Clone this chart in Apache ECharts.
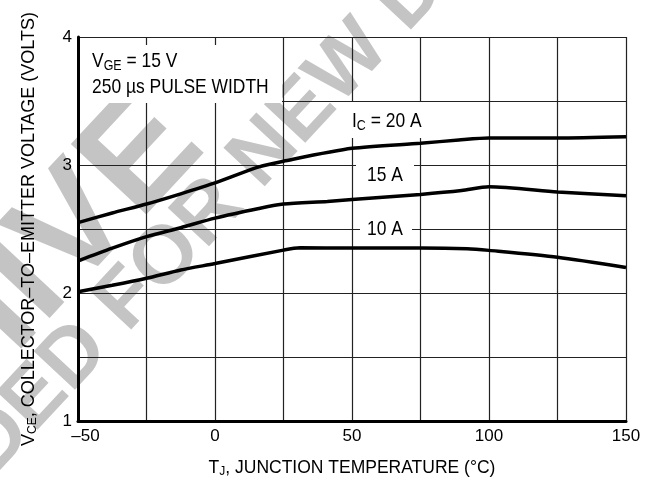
<!DOCTYPE html>
<html><head><meta charset="utf-8">
<script src="https://cdn.jsdelivr.net/npm/echarts@6/dist/echarts.min.js"></script>
<style>html,body{margin:0;padding:0;background:#fff}#c{width:657px;height:484px}</style>
</head><body><div id="c"></div>
<script>
// ---- data ----
const xTicks = [-50, 0, 50, 100, 150];
const yTicks = [1, 2, 3, 4];
const ic20T = [-50, -37.5, -25, -12.5, 0, 16, 25, 50, 75, 89, 100, 125, 150];
const ic20V = [2.55, 2.625, 2.695, 2.775, 2.86, 2.985, 3.03, 3.13, 3.17, 3.195, 3.21, 3.21, 3.22];
const ic15T = [-50, -37.5, -25, -12.5, 0, 16, 25, 41, 50, 75, 90, 100, 125, 150];
const ic15V = [2.25, 2.35, 2.44, 2.51, 2.585, 2.66, 2.695, 2.715, 2.73, 2.77, 2.80, 2.83, 2.79, 2.76];
const ic10T = [-50, -37.5, -25, -12.5, 0, 25, 31, 50, 75, 92, 100, 125, 150];
const ic10V = [2.01, 2.06, 2.115, 2.18, 2.23, 2.335, 2.353, 2.352, 2.352, 2.346, 2.333, 2.28, 2.20];

const FONT = '"Liberation Sans",Arial,Helvetica,sans-serif';
const nameRich = (sz) => ({
  n: {fontSize: sz, fontFamily: FONT, color: '#000', lineHeight: 26},
  s: {fontSize: Math.round(sz * 0.68), fontFamily: FONT, color: '#000', lineHeight: 16, padding: [8, 0, 0, 0]}
});
const annRich = {
  n: {fontSize: 21, fontFamily: FONT, color: '#000', lineHeight: 26},
  s: {fontSize: 15, fontFamily: FONT, color: '#000', lineHeight: 16, padding: [9, 0, 0, 0]}
};
const pairs = (t, v) => t.map((x, i) => [x, v[i]]);
const deg = Math.PI / 180;
const SX = 0.83;  // condensed look of the reference lettering

const chart = echarts.init(document.getElementById('c'), null, {renderer: 'canvas'});
chart.setOption({
  animation: false,
  backgroundColor: '#fff',
  grid: {left: 78, right: 31, top: 37, bottom: 63, containLabel: false, outerBoundsMode: 'none'},
  xAxis: {
    type: 'value', min: -50, max: 150, interval: 25,
    axisLine: {onZero: false, lineStyle: {color: '#000', width: 3}},
    axisTick: {show: false},
    splitLine: {show: true, lineStyle: {color: '#222', width: 1.2}},
    axisLabel: {
      margin: 7, color: '#000', fontSize: 17, fontFamily: FONT,
      formatter: v => xTicks.includes(v) ? (v < 0 ? '{m|\u2013' + Math.abs(v) + '}' : String(v)) : '',
      rich: {m: {fontSize: 17, fontFamily: FONT, color: '#000', padding: [0, 0, 0, 15]}}
    },
    name: '{n|T}{s|J}{n|, JUNCTION TEMPERATURE (\u00B0C)}',
    nameLocation: 'middle', nameGap: 34,
    nameTextStyle: {rich: nameRich(17.5)}
  },
  yAxis: {
    type: 'value', min: 1, max: 4, interval: 0.5,
    axisLine: {onZero: false, lineStyle: {color: '#000', width: 3}},
    axisTick: {show: false},
    splitLine: {show: true, lineStyle: {color: '#222', width: 1.2}},
    axisLabel: {
      margin: 6, color: '#000', fontSize: 17, fontFamily: FONT,
      formatter: v => yTicks.includes(v) ? String(v) : ''
    },
    name: '{n|V}{s|CE}{n|, COLLECTOR\u2013TO\u2013EMITTER VOLTAGE (VOLTS)}',
    nameLocation: 'middle', nameGap: 36,
    nameTextStyle: {rich: nameRich(18)}
  },
  series: [
    {name: '20 A', type: 'line', data: pairs(ic20T, ic20V)},
    {name: '15 A', type: 'line', data: pairs(ic15T, ic15V)},
    {name: '10 A', type: 'line', data: pairs(ic10T, ic10V)}
  ].map(s => Object.assign(s, {
    showSymbol: false, smooth: 0.25, z: 5,
    lineStyle: {color: '#000', width: 3.5}
  })),
  graphic: [
    // watermark
    {type: 'text', z: -5, x: -283, y: 614, rotation: 47 * deg,
     style: {text: 'ARCHIVE', font: 'bold 150px ' + FONT, fill: '#c4c4c4', textAlign: 'left', textVerticalAlign: 'middle'}},
    {type: 'text', z: -5, x: 95, y: 335, rotation: 47 * deg,
     style: {text: 'NOT RECOMMENDED', font: 'bold 82px ' + FONT, fill: '#c4c4c4', textAlign: 'right', textVerticalAlign: 'middle'}},
    {type: 'text', z: -5, x: 111, y: 318, rotation: 47 * deg,
     style: {text: 'FOR NEW DESIGN', font: 'bold 82px ' + FONT, fill: '#c4c4c4', textAlign: 'left', textVerticalAlign: 'middle'}},
    // annotation boxes
    {type: 'rect', z: 3, shape: {x: 80, y: 45, width: 202, height: 58}, style: {fill: '#fff'}},
    {type: 'rect', z: 3, shape: {x: 346, y: 102, width: 82, height: 36}, style: {fill: '#fff'}},
    {type: 'rect', z: 3, shape: {x: 356, y: 159, width: 58, height: 28}, style: {fill: '#fff'}},
    {type: 'rect', z: 3, shape: {x: 360, y: 218, width: 52, height: 22}, style: {fill: '#fff'}},
    {type: 'text', z: 4, x: 92, y: 61, scaleX: SX,
     style: {text: '{n|V}{s|GE}{n| = 15 V}', rich: annRich, textAlign: 'left', textVerticalAlign: 'middle'}},
    {type: 'text', z: 4, x: 92, y: 87, scaleX: SX,
     style: {text: '250 \u00B5s PULSE WIDTH', font: '21px ' + FONT, fill: '#000', textAlign: 'left', textVerticalAlign: 'middle'}},
    {type: 'text', z: 4, x: 352, y: 121, scaleX: SX,
     style: {text: '{n|I}{s|C}{n| = 20 A}', rich: annRich, textAlign: 'left', textVerticalAlign: 'middle'}},
    {type: 'text', z: 4, x: 385, y: 175, scaleX: SX,
     style: {text: '15 A', font: '21px ' + FONT, fill: '#000', textAlign: 'center', textVerticalAlign: 'middle'}},
    {type: 'text', z: 4, x: 385, y: 229, scaleX: SX,
     style: {text: '10 A', font: '21px ' + FONT, fill: '#000', textAlign: 'center', textVerticalAlign: 'middle'}}
  ]
});
</script></body></html>
